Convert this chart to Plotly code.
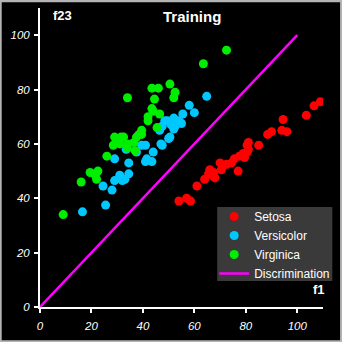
import plotly.graph_objects as go

# ---- data (f1, f23) ----
setosa_x = [54, 57, 58.5, 61, 64, 65.5, 66, 67.5, 68, 67.5, 70, 70.5, 71, 72.5, 74.5, 75.5, 77,
            77.5, 79, 79.5, 80.5, 81, 80.5, 81, 85, 88.5, 90, 94, 96, 94.5, 103.5, 106.5, 109]
setosa_y = [39, 40, 39, 44.5, 47, 49, 50.5, 49.5, 47.5, 48, 53, 50.5, 52, 52.5, 53, 54.5, 50,
            55.5, 56.5, 55, 57, 58, 59.5, 60.5, 59.5, 63.5, 64.5, 65, 64.5, 69, 70.5, 74, 75.5]

versicolor_x = [16.5, 25.5, 24.5, 28, 29, 31, 32, 33, 34.5, 34.5, 29, 33.5, 37.5, 39.5, 41, 41,
                41.5, 43.5, 44, 47, 47.5, 50.5, 50, 46.5, 47.5, 48.5, 49.5, 51, 52.5, 52, 52,
                54, 55, 55.5, 60, 58, 64.8]
versicolor_y = [35, 37.5, 44.5, 43, 46.5, 48.5, 46.5, 47, 49, 53, 54.5, 58, 57, 59.5, 59.5, 53.5,
                54.5, 53.5, 57, 60, 59.5, 62.5, 62, 65, 66.5, 68.5, 68.5, 67, 66.5, 65.5, 69.5,
                68.5, 67.5, 71, 71.5, 74.2, 77.5]

virginica_x = [9, 16, 19.5, 21.5, 22.5, 22, 26, 28.5, 29, 30, 31.5, 32.5, 34, 34, 36.5, 37, 37.5,
               38.5, 39.5, 39.5, 42, 42, 43.5, 44, 43.5, 46, 44.5, 45.5, 46.5, 50.5, 52.5, 52,
               63.5, 72.5, 34, 31]
virginica_y = [34, 46, 49.5, 48.5, 50, 47, 55.5, 59.5, 62.5, 60.5, 62.5, 62.5, 60, 77, 60.5, 57.5,
               62.5, 63.5, 63.5, 65, 68.5, 70, 73, 72, 80.5, 80.5, 76.5, 66, 71, 82, 79, 77,
               89.5, 94.5, 58.5, 60]

disc_x = [0, 100]
disc_y = [0, 100]

x_ticks = [0, 20, 40, 60, 80, 100]
y_ticks = [0, 20, 40, 60, 80, 100]

# ---- figure ----
W, H = 342, 342
ML, MR, MT, MB = 40, 19.3, 8, 35
PW, PH = W - ML - MR, H - MT - MB

fig = go.Figure()
msize = 9
fig.add_trace(go.Scatter(x=setosa_x, y=setosa_y, mode="markers", name="Setosa",
                         marker=dict(color="#ff0000", size=msize)))
fig.add_trace(go.Scatter(x=versicolor_x, y=versicolor_y, mode="markers", name="Versicolor",
                         marker=dict(color="#00c8ff", size=msize)))
fig.add_trace(go.Scatter(x=virginica_x, y=virginica_y, mode="markers", name="Virginica",
                         marker=dict(color="#00ee00", size=msize)))
fig.add_trace(go.Scatter(x=disc_x, y=disc_y, mode="lines", name="Discrimination",
                         line=dict(color="#ff00ff", width=2.5)))

axis_common = dict(
    range=[0, 110], showgrid=False, zeroline=False, showline=True, linecolor="white",
    linewidth=2, ticks="outside", ticklen=4, tickcolor="white", tickwidth=1.5,
    tickfont=dict(color="white", size=11.5, family="Liberation Sans, Arial", style="italic"),
    fixedrange=True, automargin=False,
)
fig.update_xaxes(tickvals=x_ticks, ticklabelstandoff=3, **axis_common)
fig.update_yaxes(tickvals=y_ticks, ticklabelstandoff=2, **axis_common)

def px_to_paper(px, py):
    return (px - ML) / PW, (H - MB - py) / PH

ann_font = dict(color="white", family="Liberation Sans, Arial")
tx, ty = px_to_paper(192, 17)
fx, fy = px_to_paper(62, 15.5)
gx, gy = px_to_paper(318.5, 289)
fig.add_annotation(text="<b>Training</b>", x=tx, y=ty, xref="paper", yref="paper", showarrow=False,
                   xanchor="center", yanchor="middle", font=dict(size=15, **ann_font))
fig.add_annotation(text="<b>f23</b>", x=fx, y=fy, xref="paper", yref="paper", showarrow=False,
                   xanchor="center", yanchor="middle", font=dict(size=13, **ann_font))
fig.add_annotation(text="<b>f1</b>", x=gx, y=gy, xref="paper", yref="paper", showarrow=False,
                   xanchor="center", yanchor="middle", font=dict(size=13, **ann_font))

# outer frame
bx0, by0 = px_to_paper(0.5, H - 0.5)
bx1, by1 = px_to_paper(W - 1, 1)
fig.add_shape(type="rect", xref="paper", yref="paper", x0=bx0, y0=by0, x1=bx1, y1=by1,
              line=dict(color="#b4b4b4", width=2.5))

# legend background box
kx0, ky0 = px_to_paper(217, 281)
kx1, ky1 = px_to_paper(332, 207)
fig.add_shape(type="rect", xref="paper", yref="paper", x0=kx0, y0=ky0, x1=kx1, y1=ky1,
              line=dict(width=0), fillcolor="#3a3a3a", layer="above")

lx, ly = px_to_paper(214, 202)
fig.update_layout(
    width=W, height=H,
    margin=dict(l=ML, r=MR, t=MT, b=MB, autoexpand=False),
    paper_bgcolor="black", plot_bgcolor="black",
    showlegend=True,
    legend=dict(x=lx, y=ly, xanchor="left", yanchor="top", bgcolor="rgba(0,0,0,0)",
                font=dict(color="white", size=12, family="Liberation Sans, Arial"),
                itemwidth=30, tracegroupgap=0),
)

fig.write_html("out.html")
